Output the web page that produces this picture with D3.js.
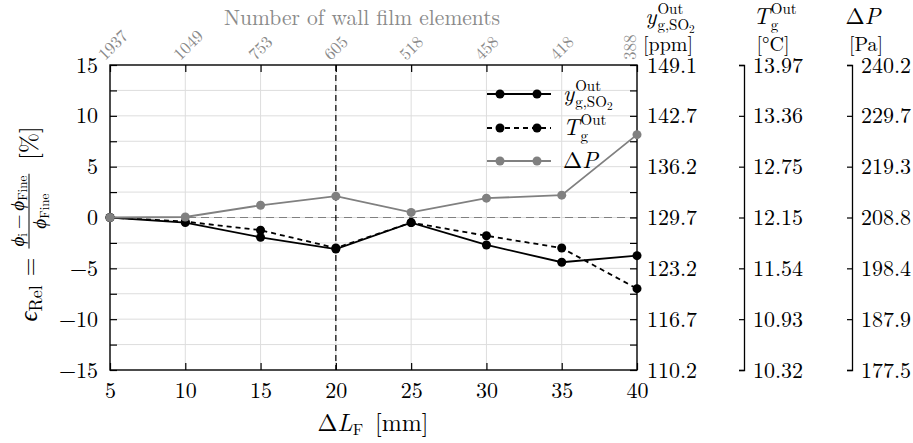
<!DOCTYPE html>
<html><head><meta charset="utf-8">
<script src="https://cdn.jsdelivr.net/npm/d3@7"></script>
<style>body{margin:0;background:#fff} svg{display:block}</style>
</head><body>
<svg id="c" width="913" height="443"></svg>
<script>
// ---------- data ----------
const xValues = [5, 10, 15, 20, 25, 30, 35, 40];
const wallFilmElements = ["1937", "1049", "753", "605", "518", "458", "418", "388"];
const ySO2 = [0, -0.5, -1.95, -3.1, -0.5, -2.7, -4.4, -3.75];
const tOut = [0, -0.4, -1.25, -3.0, -0.5, -1.8, -3.0, -7.0];
const deltaP = [0, 0.05, 1.2, 2.1, 0.5, 1.9, 2.2, 8.15];
const leftTicks = [-15, -10, -5, 0, 5, 10, 15];
const so2TickLabels = ["110.2", "116.7", "123.2", "129.7", "136.2", "142.7", "149.1"];
const tTickLabels = ["10.32", "10.93", "11.54", "12.15", "12.75", "13.36", "13.97"];
const dpTickLabels = ["177.5", "187.9", "198.4", "208.8", "219.3", "229.7", "240.2"];

// ---------- setup ----------
const FONT = '"Latin Modern Roman"';
const svg = d3.select("#c");
const L = 110, R = 637, T = 65, B = 370;
const x = d3.scaleLinear().domain([5, 40]).range([L, R]);
const y = d3.scaleLinear().domain([-15, 15]).range([B, T]);
const minor = d3.range(-15, 15.01, 2.5);
const GRAY = "#808080";
const TICKFS = 22;

function txt(sel) { return sel.style("font-family", FONT); }

// grid
svg.append("g").selectAll("line").data(xValues.slice(1, -1)).join("line")
  .attr("x1", d => x(d)).attr("x2", d => x(d)).attr("y1", T).attr("y2", B)
  .attr("stroke", "#dddddd").attr("stroke-width", 1);
svg.append("g").selectAll("line").data(minor.slice(1, -1)).join("line")
  .attr("y1", d => y(d)).attr("y2", d => y(d)).attr("x1", L).attr("x2", R)
  .attr("stroke", "#dddddd").attr("stroke-width", 1);

// reference lines
svg.append("line").attr("x1", L).attr("x2", R).attr("y1", y(0)).attr("y2", y(0))
  .attr("stroke", GRAY).attr("stroke-width", 1.2).attr("stroke-dasharray", "8,5");
svg.append("line").attr("x1", x(20)).attr("x2", x(20)).attr("y1", T).attr("y2", B)
  .attr("stroke", "#000").attr("stroke-width", 1.2).attr("stroke-dasharray", "6,4");

function styleAxis(g, size) {
  g.attr("font-family", null).attr("font-size", null);
  g.select(".domain").attr("stroke", "#000").attr("stroke-width", 1.3);
  g.selectAll(".tick line").attr("stroke", "#000").attr("stroke-width", 1.2);
  g.selectAll(".tick text").attr("font-size", size).attr("fill", "#000").style("font-family", FONT);
}

// left axis
const gl = svg.append("g").attr("transform", `translate(${L},0)`)
  .call(d3.axisLeft(y).tickValues(minor).tickSizeInner(-7).tickSizeOuter(0).tickPadding(12)
    .tickFormat(d => (d % 5 === 0 ? d3.format("d")(d) : "")));
styleAxis(gl, TICKFS); gl.select(".domain").remove();

// bottom axis
const gb = svg.append("g").attr("transform", `translate(0,${B})`)
  .call(d3.axisBottom(x).tickValues(xValues).tickSizeInner(-7).tickSizeOuter(0).tickPadding(12));
styleAxis(gb, TICKFS); gb.select(".domain").remove();

// top axis (ticks only)
const gt = svg.append("g").attr("transform", `translate(0,${T})`)
  .call(d3.axisTop(x).tickValues(xValues).tickSizeInner(-7).tickSizeOuter(0).tickFormat(""));
styleAxis(gt, 16); gt.select(".domain").remove();

// right main axis (SO2)
const gr = svg.append("g").attr("transform", `translate(${R},0)`)
  .call(d3.axisRight(y).tickValues(minor).tickSizeInner(-7).tickSizeOuter(0).tickPadding(10)
    .tickFormat(d => (d % 5 === 0 ? so2TickLabels[leftTicks.indexOf(d)] : "")));
styleAxis(gr, TICKFS); gr.select(".domain").remove();

// frame
svg.append("rect").attr("x", L).attr("y", T).attr("width", R - L).attr("height", B - T)
  .attr("fill", "none").attr("stroke", "#000").attr("stroke-width", 1.4);

// extra right axes
function extraAxis(xpos, labels) {
  const g = svg.append("g").attr("transform", `translate(${xpos},0)`)
    .call(d3.axisRight(y).tickValues(leftTicks).tickSizeInner(-5).tickSizeOuter(-5).tickPadding(9)
      .tickFormat((d, i) => labels[i]));
  styleAxis(g, TICKFS);
}
extraAxis(744, tTickLabels);
extraAxis(852, dpTickLabels);

// top tick labels (rotated)
txt(svg.append("g").selectAll("text").data(xValues).join("text")
  .attr("transform", (d, i) => i === xValues.length - 1
    ? `translate(${x(d) - 1},${60}) rotate(-90)`
    : `translate(${x(d) - 5},${61}) rotate(-45)`)
  .attr("font-size", 17).attr("fill", "#8a8a8a")
  .text((d, i) => wallFilmElements[i]));

// top title
txt(svg.append("text").attr("x", 362).attr("y", 25).attr("text-anchor", "middle")
  .attr("font-size", 21.5).attr("fill", "#8a8a8a").text("Number of wall film elements"));

// data lines
const line = d3.line().x((d, i) => x(xValues[i])).y(d => y(d));
function series(vals, color, dash) {
  svg.append("path").datum(vals).attr("d", line).attr("fill", "none")
    .attr("stroke", color).attr("stroke-width", 1.8).attr("stroke-dasharray", dash || null);
  svg.append("g").selectAll("circle").data(vals).join("circle")
    .attr("cx", (d, i) => x(xValues[i])).attr("cy", d => y(d)).attr("r", 4.5).attr("fill", color);
}
series(ySO2, "#000");
series(tOut, "#000", "5,4");
series(deltaP, GRAY);

// scripted math label helper
function scripted(parent, px, py, o) {
  const g = parent.append("g");
  const base = txt(g.append("text").attr("font-size", o.size));
  o.base.forEach(p => base.append("tspan").attr("font-style", p[1] ? "italic" : "normal").text(p[0]));
  const bw = base.node().getComputedTextLength();
  let ww = bw;
  if (o.sup) {
    const s = txt(g.append("text").attr("x", bw + 1).attr("y", -o.size * 0.42).attr("font-size", o.ss).text(o.sup));
    ww = Math.max(ww, bw + 1 + s.node().getComputedTextLength());
  }
  if (o.sub) {
    const s = txt(g.append("text").attr("x", bw + 1).attr("y", o.size * 0.26).attr("font-size", o.ss));
    s.append("tspan").text(o.sub);
    if (o.subTail) s.append("tspan").attr("font-size", o.ss * 0.75).attr("dy", 3).text(o.subTail);
    ww = Math.max(ww, bw + 1 + s.node().getComputedTextLength());
  }
  const shift = o.anchor === "middle" ? -ww / 2 : 0;
  g.attr("transform", `translate(${px + shift},${py})`);
  return g;
}

// legend
const legendItems = [
  { c: "#000", dash: null, y: 94, o: { base: [["y", 1]], sup: "Out", sub: "g,SO", subTail: "2" } },
  { c: "#000", dash: "5,4", y: 128, o: { base: [["T", 1]], sup: "Out", sub: "g" } },
  { c: GRAY, dash: null, y: 161, o: { base: [["Δ", 0], ["P", 1]] } }
];
legendItems.forEach(it => {
  svg.append("line").attr("x1", 487).attr("x2", 551).attr("y1", it.y).attr("y2", it.y)
    .attr("stroke", it.c).attr("stroke-width", 1.8).attr("stroke-dasharray", it.dash);
  [500, 537].forEach(cx => svg.append("circle").attr("cx", cx).attr("cy", it.y).attr("r", 4.5).attr("fill", it.c));
  scripted(svg, 563, it.y + 7, Object.assign({ size: 23, ss: 15 }, it.o));
});

// headers of right axes
scripted(svg, 670, 24, { size: 23, ss: 15, base: [["y", 1]], sup: "Out", sub: "g,SO", subTail: "2", anchor: "middle" });
scripted(svg, 775, 24, { size: 23, ss: 15, base: [["T", 1]], sup: "Out", sub: "g", anchor: "middle" });
scripted(svg, 863, 24, { size: 23, ss: 15, base: [["Δ", 0], ["P", 1]], anchor: "middle" });
[[668, "[ppm]"], [773, "[°C]"], [866, "[Pa]"]].forEach(h =>
  txt(svg.append("text").attr("x", h[0]).attr("y", 51).attr("text-anchor", "middle").attr("font-size", 20).text(h[1])));

// bottom title
const bt = txt(svg.append("text").attr("x", 373).attr("y", 431).attr("text-anchor", "middle").attr("font-size", 24));
bt.append("tspan").text("Δ");
bt.append("tspan").attr("font-style", "italic").text("L");
bt.append("tspan").attr("font-size", 16).attr("dy", 4).text("F");
bt.append("tspan").attr("dy", -4).text("\u2002[mm]");

// left title (rotated, with fraction)
const lg = svg.append("g");
let u = 0;
const t1 = txt(lg.append("text").attr("x", u).attr("y", 0).attr("font-size", 25).attr("font-style", "italic").text("ϵ"));
u += t1.node().getComputedTextLength();
const t2 = txt(lg.append("text").attr("x", u).attr("y", 5).attr("font-size", 18).text("Rel"));
u += t2.node().getComputedTextLength() + 9;
const t3 = txt(lg.append("text").attr("x", u).attr("y", 0).attr("font-size", 24).text("="));
u += t3.node().getComputedTextLength() + 9;
const num = txt(lg.append("text").attr("y", -13).attr("font-size", 19));
num.append("tspan").attr("font-style", "italic").text("ϕ");
num.append("tspan").attr("font-size", 13).attr("dy", 3).text("i");
num.append("tspan").attr("dy", -3).text("\u2009−\u2009");
num.append("tspan").attr("font-style", "italic").text("ϕ");
num.append("tspan").attr("font-size", 13).attr("dy", 3).text("Fine");
const den = txt(lg.append("text").attr("y", 9).attr("font-size", 19));
den.append("tspan").attr("font-style", "italic").text("ϕ");
den.append("tspan").attr("font-size", 13).attr("dy", 3).text("Fine");
const nw = num.node().getComputedTextLength(), dw = den.node().getComputedTextLength();
const fw = Math.max(nw, dw) + 4;
num.attr("x", u + (fw - nw) / 2);
den.attr("x", u + (fw - dw) / 2);
lg.append("line").attr("x1", u).attr("x2", u + fw).attr("y1", -8).attr("y2", -8).attr("stroke", "#000").attr("stroke-width", 1);
u += fw + 14;
const t4 = txt(lg.append("text").attr("x", u).attr("y", 0).attr("font-size", 24).text("[%]"));
u += t4.node().getComputedTextLength();
lg.attr("transform", `translate(37,${224 + u / 2}) rotate(-90)`);
</script>
</body></html>
